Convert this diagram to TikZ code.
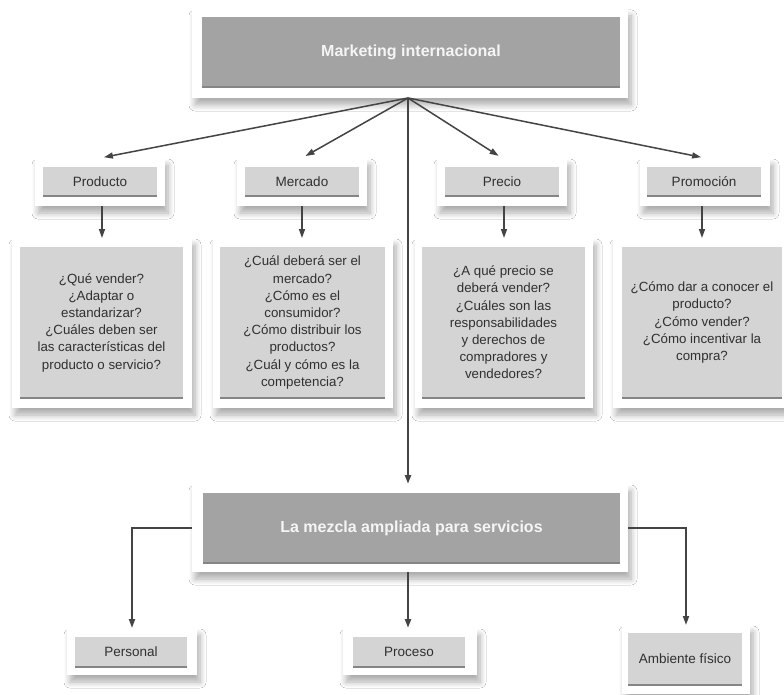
\documentclass[tikz,border=0pt]{standalone}
\usepackage{fontspec}
\setmainfont{Liberation Sans}
\usetikzlibrary{shadows.blur,arrows.meta}

\definecolor{darkbox}{HTML}{A3A3A3}
\definecolor{lightbox}{HTML}{D4D4D4}
\definecolor{boxedge}{HTML}{858585}
\definecolor{ink}{HTML}{303030}
\definecolor{conn}{HTML}{444444}

\tikzset{
  frame/.style={fill=white, draw=none, inner sep=0pt, outer sep=0pt,
    blur shadow={shadow xshift=3pt, shadow yshift=-7pt,
                 shadow blur radius=6pt, shadow blur steps=8, shadow opacity=32}},
  bottomedge/.style={path picture={
    \draw[boxedge, line width=3pt]
      (path picture bounding box.south west) -- (path picture bounding box.south east);}},
  headbox/.style={fill=darkbox, inner sep=0pt, bottomedge, text=white!96!black,
    font=\fontsize{16}{19}\selectfont\bfseries},
  labelbox/.style={fill=lightbox, inner sep=0pt, bottomedge, text=ink,
    font=\fontsize{13.5}{17}\selectfont, align=center},
  askbox/.style={fill=lightbox, inner sep=0pt, bottomedge, text=ink,
    font=\fontsize{13.3}{17.2}\selectfont, align=center},
  arr/.style={draw=conn, line width=1.5pt, -{Triangle[length=9pt,width=6pt]}},
  trunk/.style={arr, line width=2.4pt}
}

\begin{document}
\begin{tikzpicture}[x=1pt, y=-1pt]
\useasboundingbox[fill=white] (0,0) rectangle (784,695);

% top heading
\node[frame, minimum width=436pt, minimum height=89pt] (mkF) at (410,53.5) {};
\node[headbox, minimum width=418pt, minimum height=71pt] (mk) at (411,52.5) {Marketing internacional};

% the four P's
\node[frame, minimum width=130pt, minimum height=48pt] (prodF) at (100,182) {};
\node[labelbox, minimum width=114pt, minimum height=30pt] (prod) at (100,182) {Producto};
\node[frame, minimum width=130pt, minimum height=48pt] (mercF) at (302,182) {};
\node[labelbox, minimum width=114pt, minimum height=30pt] (merc) at (302,182) {Mercado};
\node[frame, minimum width=130pt, minimum height=48pt] (precF) at (502,182) {};
\node[labelbox, minimum width=114pt, minimum height=30pt] (prec) at (502,182) {Precio};
\node[frame, minimum width=130pt, minimum height=48pt] (promF) at (705,182) {};
\node[labelbox, minimum width=114pt, minimum height=30pt] (prom) at (704,182) {Promoción};

% question boxes
\node[frame, minimum width=180pt, minimum height=170pt] (qprodF) at (102,323) {};
\node[askbox, minimum width=163pt, minimum height=151pt] (qprod) at (101.5,322.5)
  {¿Qué vender?\\¿Adaptar o\\estandarizar?\\¿Cuáles deben ser\\las características del\\producto o servicio?};
\node[frame, minimum width=180pt, minimum height=170pt] (qmercF) at (303,323) {};
\node[askbox, minimum width=165pt, minimum height=151pt] (qmerc) at (302.5,322.5)
  {¿Cuál deberá ser el\\mercado?\\¿Cómo es el\\consumidor?\\¿Cómo distribuir los\\productos?\\¿Cuál y cómo es la\\competencia?};
\node[frame, minimum width=178pt, minimum height=170pt] (qprecF) at (504,323) {};
\node[askbox, minimum width=163pt, minimum height=151pt] (qprec) at (503.5,322.5)
  {¿A qué precio se\\deberá vender?\\¿Cuáles son las\\responsabilidades\\y derechos de\\compradores y\\vendedores?};
\node[frame, minimum width=178pt, minimum height=170pt] (qpromF) at (702,323) {};
\node[askbox, minimum width=160pt, minimum height=151pt] (qprom) at (702,322.5)
  {¿Cómo dar a conocer el\\producto?\\¿Cómo vender?\\¿Cómo incentivar la\\compra?};

% services mix
\node[frame, minimum width=436pt, minimum height=88pt] (mzF) at (410,528) {};
\node[headbox, minimum width=417pt, minimum height=70pt] (mz) at (411.5,528) {La mezcla ampliada para servicios};

\node[frame, minimum width=130pt, minimum height=47pt] (persF) at (132,651.5) {};
\node[labelbox, minimum width=112pt, minimum height=30pt] (pers) at (131,652) {Personal};
\node[frame, minimum width=134pt, minimum height=47pt] (procF) at (410,651.5) {};
\node[labelbox, minimum width=112pt, minimum height=30pt] (proc) at (409,652) {Proceso};
\node[frame, minimum width=128pt, minimum height=69pt] (ambF) at (686,659.5) {};
\node[labelbox, minimum width=114pt, minimum height=52pt] (amb) at (685,659) {Ambiente físico};

% connectors
\coordinate (fan) at ([xshift=-2pt]mkF.south);
\draw[arr, shorten >=4pt] (fan) -- (prodF.north);
\draw[arr, shorten >=4pt] (fan) -- (mercF.north);
\draw[arr, shorten >=4pt] (fan) -- (precF.north);
\draw[arr, shorten >=4pt] (fan) -- (promF.north);
\draw[trunk] (fan) -- (fan |- mzF.north);

\draw[arr] (prodF.south -| qprodF.north) -- (qprodF.north);
\draw[arr] (mercF.south) -- (mercF.south |- qmercF.north);
\draw[arr] (precF.south -| qprecF.north) -- (qprecF.north);
\draw[arr] (promF.south -| qpromF.north) -- (qpromF.north);

\draw[arr, line width=1.8pt] (mzF.west) -| (persF.north);
\draw[trunk] ([xshift=-2pt]mzF.south) -- ([xshift=-2pt]procF.north);
\draw[arr, line width=1.8pt] (mzF.east) -| (ambF.north);
\end{tikzpicture}
\end{document}
